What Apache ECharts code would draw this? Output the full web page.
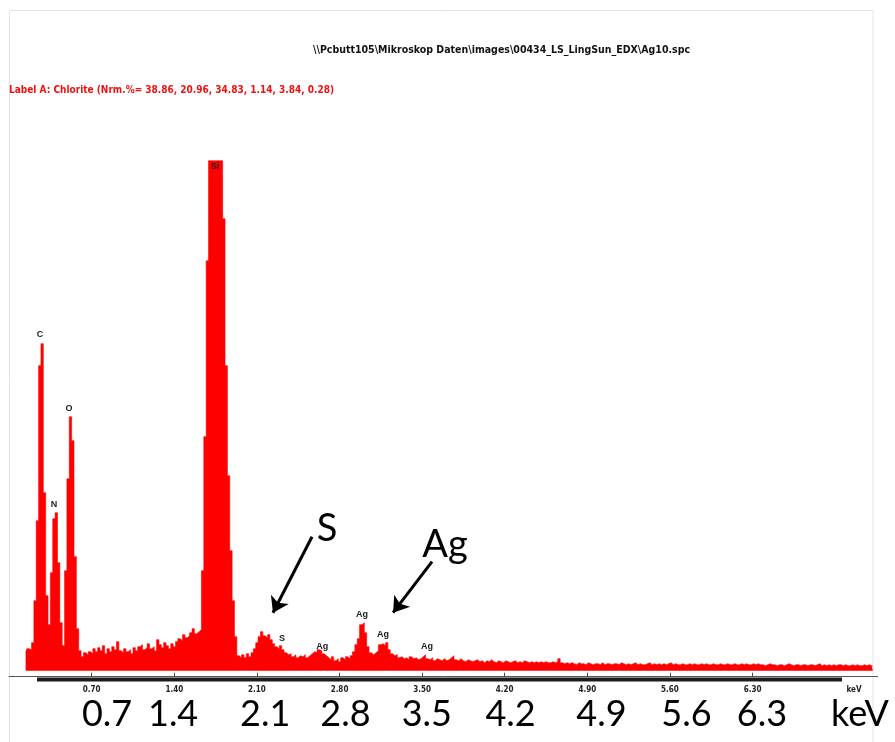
<!DOCTYPE html>
<html><head><meta charset="utf-8">
<script src="https://cdn.jsdelivr.net/npm/echarts@6/dist/echarts.min.js"></script>
<style>html,body{margin:0;padding:0;background:#fff}#c{width:895px;height:742px}</style>
</head><body><div id="c"></div>
<script>
// ---- data ----
const energyStart = 0.14;   // keV of first channel
const energyStep = 0.02;    // keV per channel
const counts = [
  18,22,21,28,70,150,305,327,178,75,
  46,98,152,158,108,48,25,100,192,254,
  230,114,42,20,14,18,16,19,17,22,
  19,23,20,25,17,22,19,24,21,29,
  20,18,22,19,21,17,23,20,24,26,
  21,23,27,22,24,20,31,26,23,28,
  25,22,27,24,29,32,30,36,33,35,
  38,42,37,39,41,100,234,410,510,510,
  510,510,510,510,452,305,195,120,70,34,
  15,13,16,13,17,14,18,22,28,34,
  39,35,33,36,31,27,24,22,25,21,
  18,16,17,14,16,13,15,14,16,13,
  15,17,19,18,21,20,17,15,13,11,
  14,10,12,9,13,11,14,12,15,19,
  26,32,46,48,38,24,18,16,18,20,
  26,27,25,28,21,17,15,16,13,14,
  12,13,11,14,12,13,11,12,14,16,
  12,11,13,10,12,11,10,12,10,11,
  13,15,11,10,12,10,9,11,10,9,
  10,11,9,10,8,10,9,11,9,8,
  10,9,8,10,9,8,9,10,8,9,
  8,10,9,8,9,8,9,8,9,8,
  9,8,8,9,8,9,12,8,7,8,
  7,8,7,6,8,7,7,6,8,7,
  6,7,7,6,8,6,7,7,6,7,
  7,6,8,7,6,7,6,7,8,6,
  7,6,6,7,8,6,7,6,7,6,
  7,6,7,8,6,7,6,6,7,6,
  6,7,6,7,6,6,7,6,7,6,
  6,7,6,6,7,6,6,7,6,6,
  7,6,6,7,6,7,6,6,7,6,
  7,6,6,5,6,7,6,6,5,6,
  6,5,6,7,6,5,6,6,5,6,
  6,5,6,6,5,6,7,5,6,5,
  6,5,6,5,6,6,5,6,5,5,
  6,5,6,5,5,6,5,6,5,5
];
const tickValues = [0.7,1.4,2.1,2.8,3.5,4.2,4.9,5.6,6.3];
const tickLabels = ["0.70","1.40","2.10","2.80","3.50","4.20","4.90","5.60","6.30"];
const unitLabel = "keV";
const bigLabels = ["0.7","1.4","2.1","2.8","3.5","4.2","4.9","5.6","6.3","keV"];
const peakNames = ["C","N","O","Si","S","Ag","Ag","Ag","Ag"];
const calloutNames = ["S","Ag"];
const headerPath = "\\\\Pcbutt105\\Mikroskop Daten\\images\\00434_LS_LingSun_EDX\\Ag10.spc";
const labelLine = "Label A: Chlorite (Nrm.%= 38.86, 20.96, 34.83, 1.14, 3.84, 0.28)";

// ---- layout (positions in axis units) ----
const unitLabelAt = 7.16;
const bigLabelAt = [0.83,1.39,2.17,2.85,3.54,4.25,5.02,5.74,6.38,7.21];
const peakLabelAt = [[0.262,336],[0.380,166],[0.508,262],[1.745,504],[2.313,32],[2.653,24],[2.990,56],[3.168,36],[3.542,24]];
const calloutTextAt = [[2.694,142],[3.694,126]];
const calloutArrowAt = [[[2.567,134],[2.236,58]],[[3.584,109],[3.254,58]]];

const narrow = '"Liberation Sans Narrow","Arial Narrow","DejaVu Sans Condensed",sans-serif';
const big = 'Lato,"Open Sans",sans-serif';

const seriesData = counts.map((c, i) => [+(energyStart + i * energyStep).toFixed(2), c]);
const smallLabelAt = tickValues.concat([unitLabelAt]);
const smallLabelText = tickLabels.concat([unitLabel]);
function lookup(vals, texts, v) {
  for (let i = 0; i < vals.length; i++) if (Math.abs(vals[i] - v) < 1e-6) return texts[i];
  return '';
}

const markPoints = peakNames.map((n, i) => ({
  name: n, coord: peakLabelAt[i],
  label: { fontSize: 9, fontWeight: 'bold', color: '#222', fontFamily: 'Arial, "Liberation Sans", sans-serif' }
})).concat(calloutNames.map((n, i) => ({
  name: n, coord: calloutTextAt[i],
  label: { fontSize: 38, color: '#000', fontFamily: big }
})));

const chart = echarts.init(document.getElementById('c'), null, { renderer: 'canvas' });
chart.setOption({
  animation: false,
  backgroundColor: '#fff',
  grid: { left: 9.1, right: 17.4, top: 160.7, bottom: 71.3, containLabel: false },
  xAxis: [{
    type: 'value', min: 0, max: 7.36, position: 'bottom', offset: 6,
    axisLine: { show: true, onZero: false, lineStyle: { color: '#555', width: 1 } },
    axisTick: { show: true, inside: true, length: 4, customValues: tickValues, lineStyle: { color: '#444' } },
    axisLabel: { show: true, customValues: smallLabelAt, margin: 9, fontSize: 8, fontWeight: 'bold', color: '#222', fontFamily: narrow,
      formatter: v => lookup(smallLabelAt, smallLabelText, v) },
    splitLine: { show: false }
  }, {
    type: 'value', min: 0, max: 7.36, position: 'bottom', offset: 0,
    axisLine: { show: false }, axisTick: { show: false }, splitLine: { show: false },
    axisLabel: { show: true, customValues: bigLabelAt, margin: 26, fontSize: 36, color: '#000', fontFamily: big,
      formatter: v => lookup(bigLabelAt, bigLabels, v) }
  }],
  yAxis: { type: 'value', min: 0, max: 510, show: false },
  series: [{
    type: 'line', data: seriesData, step: 'middle', showSymbol: false, clip: false,
    lineStyle: { color: '#ff0000', width: 0.6 },
    areaStyle: { color: '#ff0000', opacity: 1 },
    itemStyle: { color: '#ff0000' },
    silent: true,
    markLine: {
      silent: true, symbol: ['none', 'arrow'], symbolSize: 15,
      label: { show: false },
      lineStyle: { color: '#000', width: 3, type: 'solid' },
      data: calloutArrowAt.map(a => [{ coord: a[0] }, { coord: a[1] }])
    },
    markPoint: {
      silent: true, symbol: 'circle', symbolSize: 1,
      itemStyle: { color: 'rgba(0,0,0,0)' },
      label: { show: true, position: 'inside', formatter: '{b}' },
      data: markPoints
    }
  }],
  graphic: [
    { type: 'rect', shape: { x: 9.5, y: 10.5, width: 863.5, height: 760 }, style: { fill: 'none', stroke: '#e4e4e4', lineWidth: 1 }, silent: true, z: -1 },
    { type: 'rect', shape: { x: 37, y: 677.5, width: 805, height: 4 }, style: { fill: '#1c1c1c' }, silent: true },
    { type: 'text', left: 313, top: 45, style: { text: headerPath, font: 'bold 10.5px ' + narrow, fill: '#111' }, silent: true },
    { type: 'text', left: 9, top: 85, style: { text: labelLine, font: 'bold 10px ' + narrow, fill: '#ee1111' }, silent: true }
  ]
});
</script>
</body></html>
